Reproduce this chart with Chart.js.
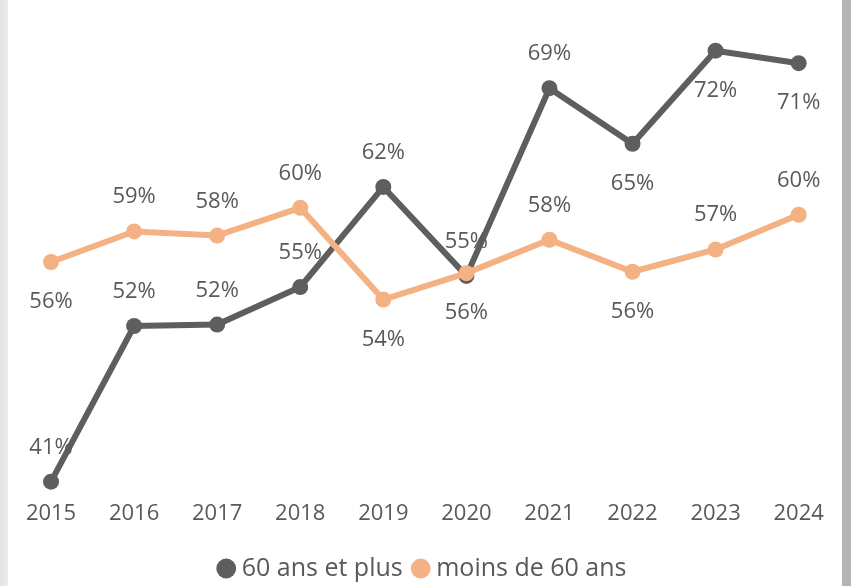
<!DOCTYPE html>
<html>
<head>
<meta charset="utf-8">
<script src="https://cdn.jsdelivr.net/npm/chart.js@4"></script>
<style>
  html, body { margin: 0; padding: 0; background: #ffffff; overflow: hidden; width: 851px; height: 586px; }
  #wrap { position: relative; width: 851px; height: 586px; overflow: hidden; background: #ffffff; }
  #ls { position: absolute; left: 0; top: 0; width: 8px; height: 586px; background: linear-gradient(to right, #e3e3e3, #ededed); }
  #rs { position: absolute; left: 842px; top: 0; width: 9px; height: 586px; background: #b4b4b4; }
  #holder { position: absolute; left: 0; top: 0; width: 851px; height: 591px; }
</style>
</head>
<body>
<div id="wrap">
  <div id="ls"></div>
  <div id="rs"></div>
  <div id="holder"><canvas id="c" width="851" height="591"></canvas></div>
</div>
<script>
// ---- data ----
const years = ['2015', '2016', '2017', '2018', '2019', '2020', '2021', '2022', '2023', '2024'];
const seriesNames = ['60 ans et plus', 'moins de 60 ans'];
const seniors = [41.0, 52.2, 52.3, 55.0, 62.2, 55.8, 69.3, 65.3, 72.0, 71.1];
const juniors = [56.8, 59.0, 58.7, 60.7, 54.1, 56.0, 58.4, 56.1, 57.7, 60.2];
// label placement relative to each point
const seniorsLabelSide = ['above', 'above', 'above', 'above', 'above', 'above', 'above', 'below', 'below', 'below'];
const juniorsLabelSide = ['below', 'above', 'above', 'above', 'below', 'below', 'above', 'below', 'above', 'above'];

const DARK = '#5e5e5e';
const ORANGE = '#f4b183';
const TEXT = '#595959';
const FONT = '"Open Sans", "Noto Sans", sans-serif';

const valueLabels = {
  id: 'valueLabels',
  afterDatasetsDraw(chart) {
    const ctx = chart.ctx;
    ctx.save();
    ctx.font = '22px ' + FONT;
    ctx.fillStyle = TEXT;
    ctx.textAlign = 'center';
    ctx.textBaseline = 'alphabetic';
    chart.data.datasets.forEach((ds, di) => {
      const meta = chart.getDatasetMeta(di);
      meta.data.forEach((pt, i) => {
        const side = ds.labelSides[i];
        const y = side === 'above' ? pt.y - 28 : pt.y + 46;
        ctx.fillText(Math.floor(ds.data[i] + 1e-9) + '%', pt.x, y);
      });
    });
    ctx.restore();
  }
};

function draw() {
  new Chart(document.getElementById('c'), {
    type: 'line',
    data: {
      labels: years,
      datasets: [
        {
          label: seriesNames[0],
          data: seniors,
          labelSides: seniorsLabelSide,
          borderColor: DARK,
          backgroundColor: DARK,
          pointBackgroundColor: DARK,
          pointBorderColor: DARK,
          pointBorderWidth: 0,
          borderWidth: 6,
          pointRadius: 8,
          pointHoverRadius: 8,
          tension: 0,
          fill: false,
          order: 1
        },
        {
          label: seriesNames[1],
          data: juniors,
          labelSides: juniorsLabelSide,
          borderColor: ORANGE,
          backgroundColor: ORANGE,
          pointBackgroundColor: ORANGE,
          pointBorderColor: ORANGE,
          pointBorderWidth: 0,
          borderWidth: 6,
          pointRadius: 8,
          pointHoverRadius: 8,
          tension: 0,
          fill: false,
          order: 0
        }
      ]
    },
    options: {
      responsive: false,
      animation: false,
      events: [],
      layout: { autoPadding: false, padding: { top: 2, left: 9.5, right: 10.8, bottom: 0 } },
      scales: {
        x: {
          offset: true,
          grid: { display: false, drawTicks: false },
          border: { display: false },
          ticks: {
            font: { family: FONT, size: 22 },
            color: TEXT,
            padding: 4.5,
            maxRotation: 0,
            autoSkip: false
          },
          afterFit: (s) => { s.height = 45.4; }
        },
        y: {
          display: false,
          min: 40,
          max: 75.5
        }
      },
      plugins: {
        tooltip: { enabled: false },
        legend: {
          position: 'bottom',
          labels: {
            usePointStyle: true,
            pointStyle: 'circle',
            boxWidth: 6,
            boxHeight: 14,
            padding: 15,
            color: TEXT,
            font: { family: FONT, size: 25 },
            sort: (a, b) => a.datasetIndex - b.datasetIndex
          }
        }
      }
    },
    plugins: [valueLabels]
  });
}

if (document.fonts && document.fonts.load) {
  Promise.all([
    document.fonts.load('22px "Open Sans"'),
    document.fonts.load('25px "Open Sans"')
  ]).then(draw, draw);
} else {
  draw();
}
</script>
</body>
</html>
